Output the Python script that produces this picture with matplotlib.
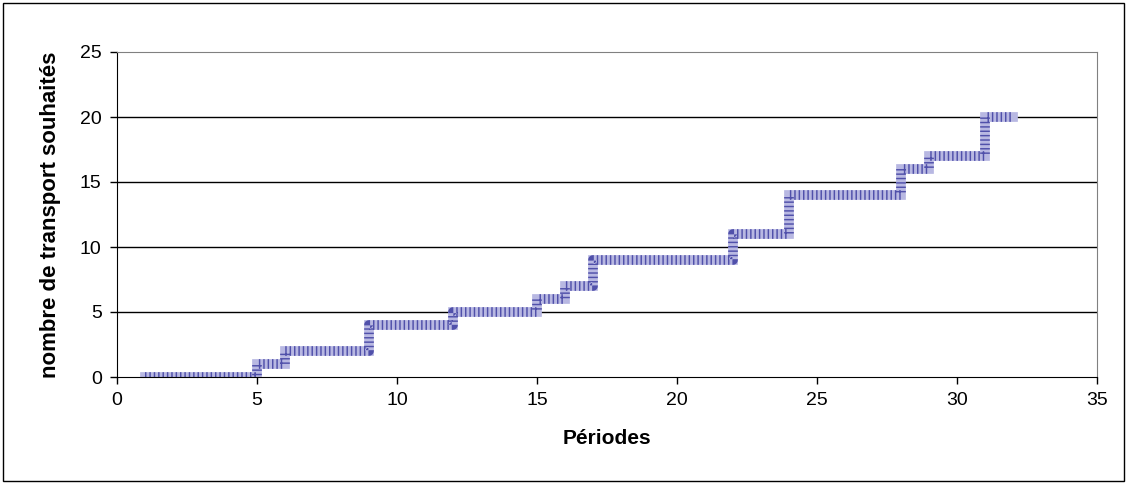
import matplotlib
matplotlib.use("Agg")
import matplotlib.pyplot as plt
from matplotlib.patches import Rectangle

# Data
periodes = list(range(1, 33))
transports = [0, 0, 0, 0, 1, 2, 2, 2, 4, 4, 4, 5, 5, 5, 6, 7,
              9, 9, 9, 9, 9, 11, 11, 14, 14, 14, 14, 16, 17, 17, 20, 20]

x_ticks = [0, 5, 10, 15, 20, 25, 30, 35]
y_ticks = [0, 5, 10, 15, 20, 25]

plt.rcParams['font.family'] = ['Liberation Sans', 'DejaVu Sans']

fig = plt.figure(figsize=(11.27, 4.84), dpi=100)
ax = fig.add_axes([117 / 1127, 1 - 377 / 484, 980 / 1127, 325 / 484])

# thick checkered-looking step line
ax.step(periodes, transports, where='post', color='#b8b8e2', linewidth=7, solid_joinstyle='miter')
ax.step(periodes, transports, where='post', color='#5050aa', linewidth=7,
        linestyle=(0, (0.15, 0.3)), dash_capstyle='butt')

ax.set_xlim(0, 35)
ax.set_ylim(0, 25)
ax.set_xticks(x_ticks)
ax.set_yticks(y_ticks)
ax.tick_params(direction='out', length=5, labelsize=14, width=1, pad=6)

for y in y_ticks[1:-1]:
    ax.axhline(y, color='black', linewidth=1, zorder=0)

ax.spines['top'].set_color('#808080')
ax.spines['right'].set_color('#808080')
ax.spines['left'].set_color('black')
ax.spines['bottom'].set_color('black')

ax.set_xlabel('Périodes', fontsize=15, fontweight='bold', labelpad=14)
ax.set_ylabel('nombre de transport souhaités', fontsize=16, fontweight='bold', labelpad=14)

# outer frame around the whole chart
fig.patches.append(Rectangle((3 / 1127, 3 / 484), 1121 / 1127, 478 / 484,
                             transform=fig.transFigure, fill=False,
                             edgecolor='black', linewidth=1))

fig.savefig('out.png', dpi=100)
